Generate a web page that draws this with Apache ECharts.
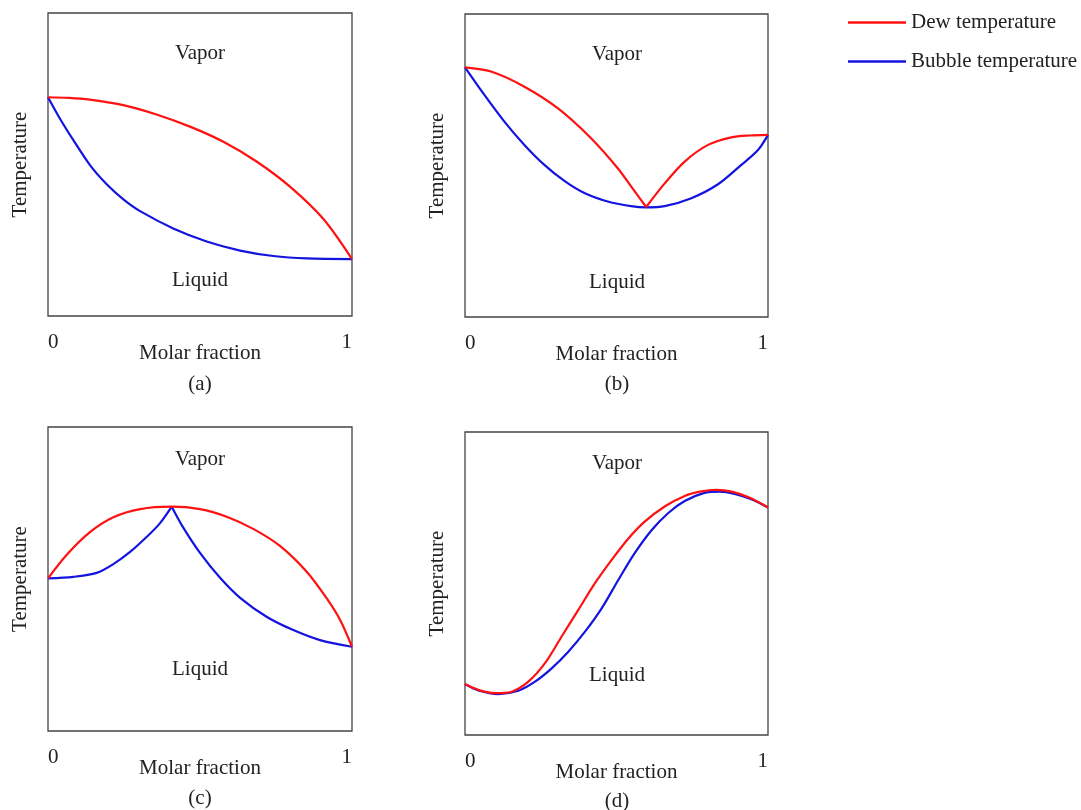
<!DOCTYPE html>
<html><head><meta charset="utf-8">
<script src="https://cdn.jsdelivr.net/npm/echarts@6/dist/echarts.min.js"></script>
<style>html,body{margin:0;padding:0;background:#fff}#c{width:1081px;height:810px}</style>
</head><body><div id="c"></div>
<script>
// Panel (a)
const dewA = [[0,72.2],[0.07,72.0],[0.138,71.4],[0.248,69.6],[0.357,66.5],[0.467,62.5],[0.577,57.5],[0.686,51.0],[0.796,42.7],[0.906,32.0],[1,18.8]];
const bubbleA = [[0,72.2],[0.039,65.2],[0.083,58.1],[0.138,49.8],[0.193,43.5],[0.248,38.5],[0.303,34.6],[0.412,28.9],[0.522,24.6],[0.632,21.6],[0.741,19.8],[0.851,19.0],[1,18.8]];
// Panel (b) - dew curve has a cusp (azeotrope), split in two pieces
const dewB1 = [[0,82.4],[0.086,81.0],[0.196,76.0],[0.306,68.9],[0.416,59.0],[0.504,49.1],[0.559,41.6],[0.598,36.3]];
const dewB2 = [[0.598,36.3],[0.659,44.1],[0.725,51.3],[0.802,56.8],[0.879,59.3],[0.94,59.9],[1,60.1]];
const bubbleB = [[0,82.4],[0.064,73.3],[0.130,64.5],[0.196,56.8],[0.262,50.2],[0.328,44.9],[0.394,40.9],[0.471,38.1],[0.548,36.6],[0.598,36.2],[0.659,36.6],[0.747,39.2],[0.835,43.8],[0.912,50.2],[0.967,55.1],[1,60.1]];
// Panel (c) - bubble curve has a cusp
const dewC = [[0,50.2],[0.061,57.9],[0.138,65.4],[0.215,70.3],[0.303,73.0],[0.407,73.8],[0.5,73.0],[0.588,70.5],[0.675,66.5],[0.763,60.9],[0.851,52.4],[0.917,43.6],[0.961,36.5],[1,27.7]];
const bubbleC1 = [[0,50.2],[0.083,50.7],[0.160,52.0],[0.215,54.9],[0.270,58.9],[0.325,63.9],[0.368,68.3],[0.407,73.8]];
const bubbleC2 = [[0.407,73.8],[0.445,66.9],[0.5,58.6],[0.566,50.4],[0.632,43.8],[0.719,37.6],[0.807,33.2],[0.895,29.9],[1,27.7]];
// Panel (d)
const dewD = [[0,16.8],[0.044,14.9],[0.099,13.8],[0.154,14.3],[0.209,17.6],[0.264,23.7],[0.319,32.5],[0.374,41.3],[0.429,50.1],[0.484,57.8],[0.538,64.7],[0.593,70.4],[0.659,75.4],[0.725,78.9],[0.78,80.4],[0.83,80.9],[0.88,80.3],[0.94,78.3],[1,75.1]];
const bubbleD = [[0,16.8],[0.044,14.7],[0.110,13.5],[0.176,14.6],[0.231,17.6],[0.286,22.0],[0.341,27.5],[0.396,34.1],[0.451,41.8],[0.505,51.0],[0.560,60.0],[0.615,67.5],[0.670,73.2],[0.725,77.2],[0.79,79.9],[0.84,80.3],[0.89,79.6],[0.945,77.8],[1,75.1]];

const xTicks = ['0','1'];
const panelLabels = ['(a)','(b)','(c)','(d)'];
const seriesNames = ['Dew temperature','Bubble temperature'];

const FONT = 'Liberation Serif';
const FS = 21;
const RED = '#ff1111', BLUE = '#1414e0';
const grids = [
  {left:48, top:13, width:304, height:303},
  {left:465, top:14, width:303, height:303},
  {left:48, top:427, width:304, height:304},
  {left:465, top:432, width:303, height:303}
];
const xAxes = grids.map((g,i)=>({
  gridIndex:i, type:'value', min:0, max:1, interval:1,
  axisLine:{show:false}, axisTick:{show:false}, splitLine:{show:false},
  axisLabel:{margin:16, fontFamily:FONT, fontSize:FS, color:'#222', formatter:v=>xTicks[v],
    alignMinLabel:'left', alignMaxLabel:'right'},
  name:'Molar fraction', nameLocation:'middle', nameGap:27, nameMoveOverlap:false,
  nameTextStyle:{fontFamily:FONT, fontSize:FS, color:'#222', verticalAlign:'top'}
}));
const yAxes = grids.map((g,i)=>({
  gridIndex:i, type:'value', min:0, max:100,
  axisLine:{show:false}, axisTick:{show:false}, splitLine:{show:false}, axisLabel:{show:false},
  name:'Temperature', nameLocation:'middle', nameGap:17, nameMoveOverlap:false,
  nameTextStyle:{fontFamily:FONT, fontSize:FS, color:'#222'}
}));
function line(name, data, idx, color){
  return {type:'line', name, data, xAxisIndex:idx, yAxisIndex:idx, symbol:'none', smooth:0.3,
    lineStyle:{color, width:2.2}, itemStyle:{color}, z:color===RED?4:3, silent:true, animation:false};
}
const series = [
  line(seriesNames[0], dewA, 0, RED), line(seriesNames[1], bubbleA, 0, BLUE),
  line(seriesNames[0], dewB1, 1, RED), line(seriesNames[0], dewB2, 1, RED), line(seriesNames[1], bubbleB, 1, BLUE),
  line(seriesNames[0], dewC, 2, RED), line(seriesNames[1], bubbleC1, 2, BLUE), line(seriesNames[1], bubbleC2, 2, BLUE),
  line(seriesNames[0], dewD, 3, RED), line(seriesNames[1], bubbleD, 3, BLUE)
];

const txt = (x,y,t)=>({type:'text', x, y, style:{text:t, fontFamily:FONT, fontSize:FS, fill:'#222', align:'center', verticalAlign:'middle'}});
const graphic = [
  txt(200,53,'Vapor'), txt(200,280,'Liquid'), txt(200,384,panelLabels[0]),
  txt(617,54,'Vapor'), txt(617,282,'Liquid'), txt(617,384,panelLabels[1]),
  txt(200,459,'Vapor'), txt(200,669,'Liquid'), txt(200,798,panelLabels[2]),
  txt(617,463,'Vapor'), txt(617,675,'Liquid'), txt(617,801,panelLabels[3])
];

const chart = echarts.init(document.getElementById('c'), null, {renderer:'canvas'});
chart.setOption({
  animation:false,
  backgroundColor:'#fff',
  grid: grids.map(g=>Object.assign({show:true, borderColor:'#444', borderWidth:1.3, backgroundColor:'transparent'}, g)),
  xAxis: xAxes, yAxis: yAxes, series,
  legend:{data:seriesNames.map(n=>({name:n, icon:'rect'})), orient:'vertical', left:843, top:7, itemWidth:58, itemHeight:2.5, itemGap:18,
    textStyle:{fontFamily:FONT, fontSize:FS, color:'#222'}, selectedMode:false},
  graphic
});
</script></body></html>
